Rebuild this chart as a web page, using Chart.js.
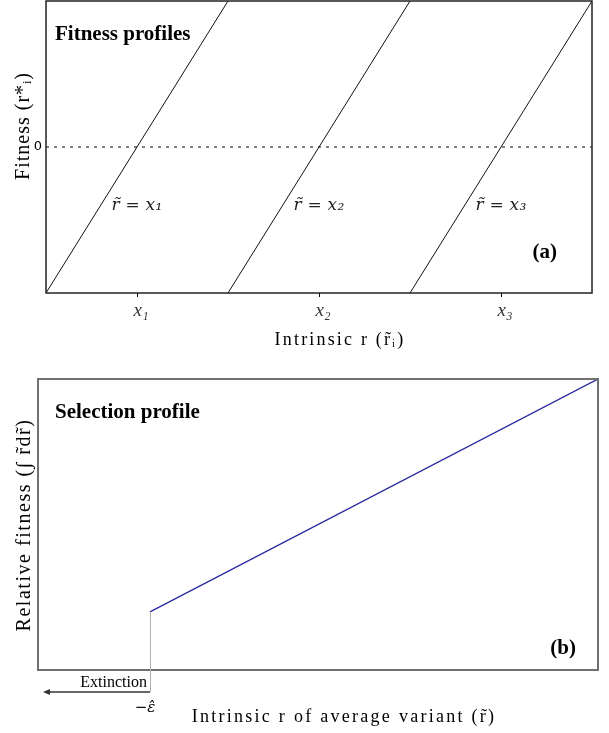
<!DOCTYPE html>
<html>
<head>
<meta charset="utf-8">
<script src="https://cdn.jsdelivr.net/npm/chart.js@4"></script>
<style>
  body { margin: 0; background: #fff; }
  canvas { display: block; }
</style>
</head>
<body>
<canvas id="profiles" width="609" height="360"></canvas>
<canvas id="selection" width="609" height="373"></canvas>
<script>
// panel (a): fitness profiles, each one spans one unit of intrinsic r
const profileBounds = [[0, 1], [1, 2], [2, 3]];
const profileFitness = [-1, 1];
const zeroLineX = [0, 3];
const optimumTicks = [0.5, 1.5, 2.5];
const optimumLabels = ['x₁', 'x₂', 'x₃'];
const curveLabels = ['r̃ = x₁', 'r̃ = x₂', 'r̃ = x₃'];
const curveLabelFitness = -0.4;

// panel (b): selection profile
const selectionX = [0, 4];
const selectionY = [1, 5];
const extinctionX = 0;

const serif = 'Liberation Serif';

// рамка вокруг области графика
const frame = {
    id: 'frame',
    afterDraw(chart, args, opts) {
        const { ctx, chartArea: a } = chart;
        ctx.save();
        ctx.strokeStyle = opts.color;
        ctx.lineWidth = opts.width;
        ctx.strokeRect(a.left, a.top, a.right - a.left, a.bottom - a.top);
        ctx.restore();
    }
};

// подписи на графике (width - растянуть текст до нужной ширины)
const notes = {
    id: 'notes',
    afterDraw(chart, args, opts) {
        const { ctx, scales } = chart;
        opts.items.forEach(n => {
            let x = n.dataX !== undefined ? scales.x.getPixelForValue(n.dataX) : n.x;
            let y = n.dataY !== undefined ? scales.y.getPixelForValue(n.dataY) : n.y;
            ctx.save();
            ctx.translate(x, y);
            if (n.rotate) ctx.rotate(n.rotate);
            ctx.font = n.font;
            ctx.letterSpacing = '0px';
            if (n.width) {
                const natural = ctx.measureText(n.text).width;
                ctx.letterSpacing = ((n.width - natural) / [...n.text].length) + 'px';
            }
            ctx.fillStyle = n.color || '#000';
            ctx.textAlign = n.align || 'center';
            ctx.textBaseline = 'middle';
            ctx.fillText(n.text, 0, 0);
            ctx.restore();
        });
    }
};

// стрелка "Extinction" под осью
const extinction = {
    id: 'extinction',
    afterDraw(chart) {
        const { ctx, chartArea: a, scales } = chart;
        const x0 = scales.x.getPixelForValue(extinctionX);
        const yTop = scales.y.getPixelForValue(selectionY[0]);
        const yArrow = a.bottom + 22;
        ctx.save();
        ctx.strokeStyle = '#b0b0b0';
        ctx.lineWidth = 1;
        ctx.beginPath();
        ctx.moveTo(x0 + 0.5, yTop);
        ctx.lineTo(x0 + 0.5, yArrow);
        ctx.stroke();

        ctx.strokeStyle = '#333';
        ctx.fillStyle = '#333';
        ctx.lineWidth = 1.5;
        ctx.beginPath();
        ctx.moveTo(x0, yArrow);
        ctx.lineTo(a.left + 10, yArrow);
        ctx.stroke();
        ctx.beginPath();
        ctx.moveTo(a.left + 5, yArrow);
        ctx.lineTo(a.left + 12, yArrow - 3);
        ctx.lineTo(a.left + 12, yArrow + 3);
        ctx.closePath();
        ctx.fill();

        ctx.fillStyle = '#000';
        ctx.font = '16px ' + serif;
        ctx.textAlign = 'right';
        ctx.textBaseline = 'middle';
        ctx.fillText('Extinction', x0 - 3, a.bottom + 13);
        ctx.textAlign = 'center';
        ctx.font = 'italic 15px DejaVu Serif';
        ctx.fillText('−ε̂', x0 - 5, a.bottom + 38);
        ctx.restore();
    }
};

Chart.register(frame, notes, extinction);

const profileCurves = profileBounds.map(b => ({
    data: [{ x: b[0], y: profileFitness[0] }, { x: b[1], y: profileFitness[1] }],
    showLine: true,
    borderColor: '#111',
    borderWidth: 1,
    pointRadius: 0
}));

new Chart(document.getElementById('profiles'), {
    type: 'scatter',
    data: {
        datasets: [...profileCurves, {
            data: zeroLineX.map(x => ({ x, y: 0 })),
            showLine: true,
            borderColor: '#000',
            borderWidth: 1,
            borderDash: [3, 5],
            pointRadius: 0
        }]
    },
    options: {
        responsive: false,
        animation: false,
        devicePixelRatio: 1,
        layout: { padding: { top: 1, right: 17, bottom: 0, left: 0 } },
        plugins: {
            legend: { display: false },
            tooltip: { enabled: false },
            extinction: false,
            frame: { color: '#222', width: 1.5 },
            notes: {
                items: [
                    { text: 'Fitness profiles', x: 55, y: 35, align: 'left', font: 'bold 21px ' + serif },
                    { text: '(a)', x: 557, y: 253, align: 'right', font: 'bold 21px ' + serif },
                    ...curveLabels.map((t, i) => ({ text: t, dataX: optimumTicks[i], dataY: curveLabelFitness, font: 'italic 17px DejaVu Serif', color: '#222', width: 51 })),
                    { text: 'Intrinsic r (r̃ᵢ)', x: 340, y: 340, font: '18px ' + serif, width: 133 },
                    { text: 'Fitness (r*ᵢ)', x: 24, y: 126, rotate: -Math.PI / 2, font: '20px ' + serif, width: 108 }
                ]
            }
        },
        scales: {
            x: {
                type: 'linear',
                min: 0,
                max: 3,
                afterBuildTicks: s => { s.ticks = optimumTicks.map(v => ({ value: v })); },
                ticks: {
                    callback: (v, i) => optimumLabels[i],
                    font: { family: serif, size: 19, style: 'italic' },
                    color: '#333',
                    padding: 3,
                    labelOffset: 4,
                    maxRotation: 0,
                    autoSkip: false
                },
                grid: { display: true, drawOnChartArea: false, drawTicks: true, tickLength: 4, color: '#000' },
                border: { display: false },
                afterFit: s => { s.height = 67; s.paddingLeft = 0; s.paddingRight = 0; }
            },
            y: {
                min: -1,
                max: 1,
                afterBuildTicks: s => { s.ticks = [{ value: 0 }]; },
                ticks: { font: { family: 'DejaVu Sans', size: 13 }, color: '#000', padding: 4 },
                grid: { display: false, drawTicks: false },
                border: { display: false },
                afterFit: s => { s.width = 46; s.paddingTop = 0; s.paddingBottom = 0; }
            }
        }
    }
});

new Chart(document.getElementById('selection'), {
    type: 'scatter',
    data: {
        datasets: [{
            data: selectionX.map((x, i) => ({ x, y: selectionY[i] })),
            showLine: true,
            borderColor: '#2a2aa0',
            borderWidth: 1.3,
            pointRadius: 0
        }]
    },
    options: {
        responsive: false,
        animation: false,
        devicePixelRatio: 1,
        layout: { padding: { top: 19, right: 11, bottom: 0, left: 0 } },
        plugins: {
            legend: { display: false },
            tooltip: { enabled: false },
            frame: { color: '#707070', width: 2 },
            notes: {
                items: [
                    { text: 'Selection profile', x: 55, y: 53, align: 'left', font: 'bold 21px ' + serif },
                    { text: '(b)', x: 576, y: 289, align: 'right', font: 'bold 21px ' + serif },
                    { text: 'Intrinsic r of average variant (r̃)', x: 344, y: 357, font: '18px ' + serif, width: 307 },
                    { text: 'Relative fitness (∫ r̃dr̃)', x: 25, y: 165, rotate: -Math.PI / 2, font: '20px ' + serif, width: 216 }
                ]
            }
        },
        scales: {
            x: {
                type: 'linear',
                min: -1,
                max: 4,
                ticks: { display: false },
                grid: { display: false },
                border: { display: false },
                afterFit: s => { s.height = 63; }
            },
            y: {
                min: 0,
                max: 5,
                ticks: { display: false },
                grid: { display: false },
                border: { display: false },
                afterFit: s => { s.width = 38; }
            }
        }
    }
});
</script>
</body>
</html>
